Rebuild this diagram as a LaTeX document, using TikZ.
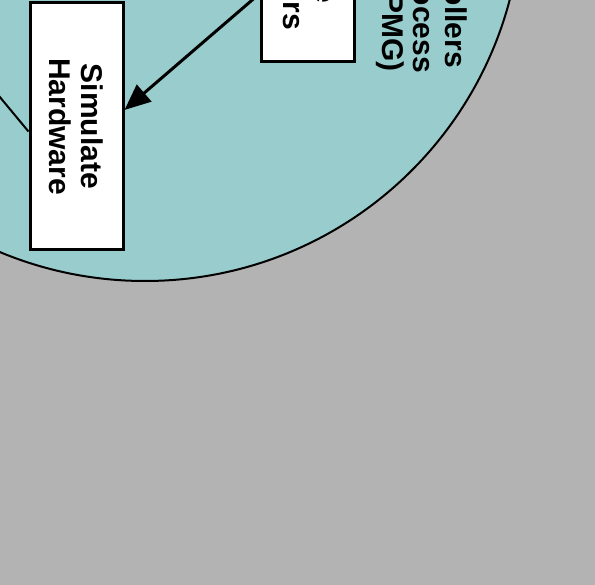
\documentclass[tikz,border=0pt]{standalone}
\usepackage{fontspec}
\setmainfont{Liberation Sans}
\usetikzlibrary{arrows.meta,calc,positioning}
\definecolor{gris}{HTML}{B3B3B3}
\definecolor{turquoise}{HTML}{99CCCC}
\tikzset{%
	>={Triangle[width=22pt,length=26pt]},
	% Specifications for style of nodes:
	base/.style = {rectangle, draw=black, line width=3pt, fill=white, inner sep=0pt},
	texte/.style = {rotate=-90, inner sep=0pt, align=center,
	font=\fontsize{30}{32}\selectfont\bfseries},
	sim/.style = {base, texte, minimum width=247pt, minimum height=93pt},
	ctrl/.style = {base, rotate=-90, minimum width=218pt, minimum height=93.5pt},
	lien/.style = {line width=3pt},
	fil/.style = {line width=2pt}
}

\begin{document}
\begin{tikzpicture}[x=1pt, y=-1pt]
		\useasboundingbox (0,0) rectangle (595,585);
		\fill[gris] (0,0) rectangle (595,585);
		\clip (0,0) rectangle (595,585);
		% Specification of the zone
		\draw[fil, fill=turquoise] (145,-96) circle (377);
		% Specification of nodes (position, etc.)
		\node (simhw)   [sim]  at (76.5,126.5) {Simulate\\Hardware};
		\node (ctrlbox) [ctrl] at (308,-47) {};
		\node (ctrlA) [texte, anchor=base east] at (315,3)  {e};
		\node (ctrlB) [texte, anchor=base east] at (283,30) {rs};
		\node (pmgA)  [texte, anchor=base east] at (445,68) {ollers};
		\node (pmgB)  [texte, anchor=base east] at (413,73) {ocess};
		\node (pmgC)  [texte, anchor=base east] at (382,72) {PMG)};
		\coordinate (hors) at (-40,49);
		% Links
		\draw[lien, ->] (ctrlbox.310.6) -- (simhw.109.5);
		\draw[fil] (hors) -- (simhw.276.7);
\end{tikzpicture}
\end{document}
